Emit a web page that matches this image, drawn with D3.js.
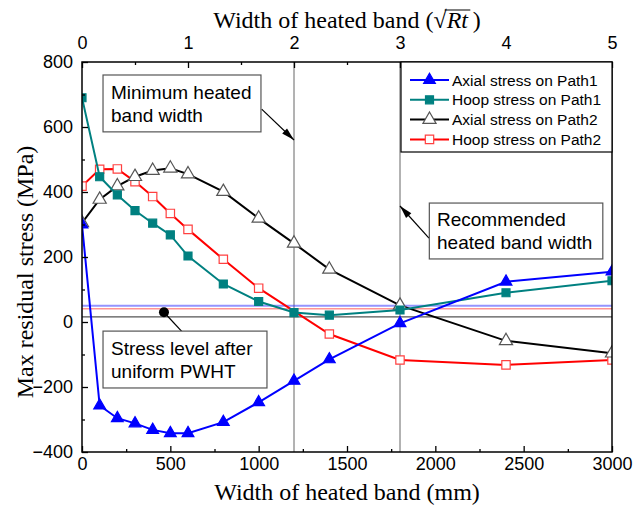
<!DOCTYPE html>
<html lang="en">
<head>
<meta charset="utf-8">
<title>Max residual stress vs heated band width</title>
<script src="https://d3js.org/d3.v7.min.js"></script>
<style>
  body { margin: 0; background: #fff; }
  .tick text { font-family: "Liberation Sans", Arial, sans-serif; font-size: 18px; fill: #000; }
  .ann { font-family: "Liberation Sans", Arial, sans-serif; font-size: 19px; fill: #000; }
  .leg { font-family: "Liberation Sans", Arial, sans-serif; font-size: 15.5px; fill: #000; }
  .ttl { font-family: "Liberation Serif", "Times New Roman", serif; font-size: 24px; fill: #000; }
</style>
</head>
<body>
<script>
// widths (mm) where the curves were sampled
var widths = [0, 100, 200, 300, 400, 500, 600, 800, 1000, 1200, 1400, 1800, 2400, 3000];
var widthsHoop2 = [0, 100, 200, 300, 400, 500, 600, 800, 1000, 1400, 1800, 2400, 3000];

// max residual stress (MPa)
var axialPath1 = [300, -257, -296, -312, -332, -342, -342, -308, -247, -181, -115, -4, 124, 155];
var hoopPath1  = [690, 447, 391, 343, 304, 268, 203, 117, 63, 29, 21, 37, 90, 127];
var axialPath2 = [305, 377, 418, 447, 466, 473, 455, 401, 319, 242, 162, 51, -58, -96];
var hoopPath2  = [418, 470, 471, 432, 386, 334, 285, 193, 104, -37, -117, -132, -117];

var seriesNames = ["Axial stress on Path1", "Hoop stress on Path1", "Axial stress on Path2", "Hoop stress on Path2"];

// axis ticks
var xTicks = [0, 500, 1000, 1500, 2000, 2500, 3000];
var xMinor = [250, 750, 1250, 1750, 2250, 2750];
var yTicks = [-400, -200, 0, 200, 400, 600, 800];
var yMinor = [-300, -100, 100, 300, 500, 700];
var topTicks = [0, 1, 2, 3, 4, 5];
var topMinor = [0.5, 1.5, 2.5, 3.5, 4.5];

// band widths marked by vertical lines (mm)
var markedWidths = [1200, 1800];
// stress level after uniform PWHT (MPa), one line per series colour
var pwhtLevels = [50, 41, 16];
var pwhtDot = {x: 464, y: 30};

var w = 644, h = 513;
// plot box (window.top is taken, so prefixed names)
var pL = 82, pR = 612, pT = 62, pB = 452;

var svg = d3.select("body").append("svg")
  .attr("width", w)
  .attr("height", h);

var x = d3.scaleLinear().domain([0, 3000]).range([pL, pR]);
var xTop = d3.scaleLinear().domain([0, 5]).range([pL, pR]);
var y = d3.scaleLinear().domain([-400, 800]).range([pB, pT]);

svg.append("clipPath").attr("id", "plotclip")
  .append("rect")
  .attr("x", pL).attr("y", pT)
  .attr("width", pR - pL).attr("height", pB - pT);

// vertical marker lines
svg.selectAll(".vline")
  .data(markedWidths)
  .enter().append("line")
  .attr("x1", function(d) { return x(d); })
  .attr("x2", function(d) { return x(d); })
  .attr("y1", pT).attr("y2", pB)
  .attr("stroke", "#666").attr("stroke-width", 1);

// PWHT levels
var pwhtColors = ["rgba(60,60,255,0.55)", "rgba(255,60,60,0.55)", "#555"];
var pwhtWidths = [2.2, 1.5, 1.2];
svg.selectAll(".hline")
  .data(pwhtLevels)
  .enter().append("line")
  .attr("x1", pL).attr("x2", pR)
  .attr("y1", function(d) { return y(d); })
  .attr("y2", function(d) { return y(d); })
  .attr("stroke", function(d, i) { return pwhtColors[i]; })
  .attr("stroke-width", function(d, i) { return pwhtWidths[i]; });

// series
var series = [
  {name: seriesNames[0], xs: widths, ys: axialPath1, color: "#0000ff", shape: d3.symbolTriangle, size: 60, fill: "#0000ff", stroke: "#0000ff"},
  {name: seriesNames[1], xs: widths, ys: hoopPath1, color: "#008080", shape: d3.symbolSquare, size: 64, fill: "#008080", stroke: "#008080"},
  {name: seriesNames[2], xs: widths, ys: axialPath2, color: "#000000", shape: d3.symbolTriangle, size: 75, fill: "#fff", stroke: "#555"},
  {name: seriesNames[3], xs: widthsHoop2, ys: hoopPath2, color: "#ff0000", shape: d3.symbolSquare, size: 70, fill: "#fff", stroke: "#ff4040"}
];

var plot = svg.append("g").attr("clip-path", "url(#plotclip)");
var line = d3.line()
  .x(function(d) { return x(d[0]); })
  .y(function(d) { return y(d[1]); });

// draw back to front so Path1 sits on top
series.slice().reverse().forEach(function(s) {
  var pts = s.xs.map(function(v, i) { return [v, s.ys[i]]; });
  var g = plot.append("g");
  g.append("path")
    .attr("d", line(pts))
    .attr("fill", "none")
    .attr("stroke", s.color)
    .attr("stroke-width", 2);
  g.selectAll("path.mk")
    .data(pts)
    .enter().append("path")
    .attr("class", "mk")
    .attr("transform", function(d) { return "translate(" + x(d[0]) + "," + y(d[1]) + ")"; })
    .attr("d", d3.symbol(s.shape, s.size))
    .attr("fill", s.fill)
    .attr("stroke", s.stroke)
    .attr("stroke-width", 1.2);
});

// axes
svg.append("g").attr("transform", "translate(0," + pB + ")")
  .call(d3.axisBottom(x).tickValues(xTicks).tickSize(-6).tickPadding(5).tickFormat(d3.format("d")));
svg.append("g").attr("transform", "translate(0," + pB + ")")
  .call(d3.axisBottom(x).tickValues(xMinor).tickSize(-3).tickFormat(""));

svg.append("g").attr("transform", "translate(" + pL + ",0)")
  .call(d3.axisLeft(y).tickValues(yTicks).tickSize(-6).tickPadding(9).tickFormat(d3.format("d")));
svg.append("g").attr("transform", "translate(" + pL + ",0)")
  .call(d3.axisLeft(y).tickValues(yMinor).tickSize(-3).tickFormat(""));

svg.append("g").attr("transform", "translate(0," + pT + ")")
  .call(d3.axisTop(xTop).tickValues(topTicks).tickSize(-6).tickPadding(13).tickFormat(d3.format("d")));
svg.append("g").attr("transform", "translate(0," + pT + ")")
  .call(d3.axisTop(xTop).tickValues(topMinor).tickSize(-3).tickFormat(""));

svg.selectAll(".domain").remove();
svg.selectAll(".tick line").attr("stroke", "#000").attr("stroke-width", 1.3);

// frame
svg.append("rect")
  .attr("x", pL).attr("y", pT)
  .attr("width", pR - pL).attr("height", pB - pT)
  .attr("fill", "none").attr("stroke", "#000").attr("stroke-width", 1.5);

// axis titles
svg.append("text").attr("class", "ttl")
  .attr("x", 347).attr("y", 500)
  .attr("text-anchor", "middle")
  .text("Width of heated band (mm)");

svg.append("text").attr("class", "ttl")
  .attr("transform", "translate(33,272) rotate(-90)")
  .attr("text-anchor", "middle")
  .text("Max residual stress (MPa)");

var topTitle = svg.append("text").attr("class", "ttl")
  .attr("x", 347).attr("y", 28)
  .attr("text-anchor", "middle");
topTitle.append("tspan").text("Width of heated band (\u221A");
var rt = topTitle.append("tspan").attr("font-style", "italic").text("Rt");
topTitle.append("tspan").text("\u2009)");
// radical bar over Rt
var rtBox = rt.node().getBBox();
svg.append("line")
  .attr("x1", rtBox.x - 1).attr("x2", rtBox.x + rtBox.width + 1)
  .attr("y1", rtBox.y + 3).attr("y2", rtBox.y + 3)
  .attr("stroke", "#000").attr("stroke-width", 1);

// legend
var leg = svg.append("g");
leg.append("rect")
  .attr("x", 401).attr("y", pT)
  .attr("width", pR - 401).attr("height", 90)
  .attr("fill", "#fff").attr("stroke", "#000").attr("stroke-width", 1.2);
series.forEach(function(s, i) {
  var cy = 80 + i * 19.8;
  leg.append("line")
    .attr("x1", 410).attr("x2", 449).attr("y1", cy).attr("y2", cy)
    .attr("stroke", s.color).attr("stroke-width", 2);
  leg.append("path")
    .attr("transform", "translate(429.5," + cy + ")")
    .attr("d", d3.symbol(s.shape, s.size))
    .attr("fill", s.fill).attr("stroke", s.stroke).attr("stroke-width", 1.2);
  leg.append("text").attr("class", "leg")
    .attr("x", 452).attr("y", cy + 5.5)
    .text(s.name);
});

// annotations
function arrow(x1, y1, x2, y2) {
  svg.append("line")
    .attr("x1", x(x1)).attr("y1", y(y1)).attr("x2", x(x2)).attr("y2", y(y2))
    .attr("stroke", "#000").attr("stroke-width", 1.2);
  var px = x(x2), py = y(y2);
  var a = Math.atan2(py - y(y1), px - x(x1));
  var L = 13, W = 3.5;
  var bx = px - L * Math.cos(a), by = py - L * Math.sin(a);
  svg.append("path")
    .attr("d", "M" + px + "," + py +
      "L" + (bx - W * Math.sin(a)) + "," + (by + W * Math.cos(a)) +
      "L" + (bx + W * Math.sin(a)) + "," + (by - W * Math.cos(a)) + "Z")
    .attr("fill", "#000");
}

function noteBox(x0, y0, x1, y1, lines, textX, baseline, gap) {
  svg.append("rect")
    .attr("x", x(x0)).attr("y", y(y0))
    .attr("width", x(x1) - x(x0)).attr("height", y(y1) - y(y0))
    .attr("fill", "#fff").attr("stroke", "#555").attr("stroke-width", 1.2);
  lines.forEach(function(t, i) {
    svg.append("text").attr("class", "ann")
      .attr("x", textX).attr("y", baseline + i * gap)
      .text(t);
  });
}

arrow(1017, 655, 1200, 560);
noteBox(119, 760, 1013, 585, ["Minimum heated", "band width"], 111, 99, 22.5);

arrow(1964, 258, 1800, 357);
noteBox(1966, 366, 2948, 194, ["Recommended", "heated band width"], 437, 226, 22.5);

// PWHT dot and leader
svg.append("line")
  .attr("x1", x(pwhtDot.x)).attr("y1", y(pwhtDot.y))
  .attr("x2", x(592)).attr("y2", y(-45))
  .attr("stroke", "#000").attr("stroke-width", 1.2);
svg.append("circle")
  .attr("cx", x(pwhtDot.x)).attr("cy", y(pwhtDot.y)).attr("r", 5)
  .attr("fill", "#000");
noteBox(119, -28, 1047, -203, ["Stress level after", "uniform PWHT"], 111, 355, 23);
</script>
</body>
</html>
